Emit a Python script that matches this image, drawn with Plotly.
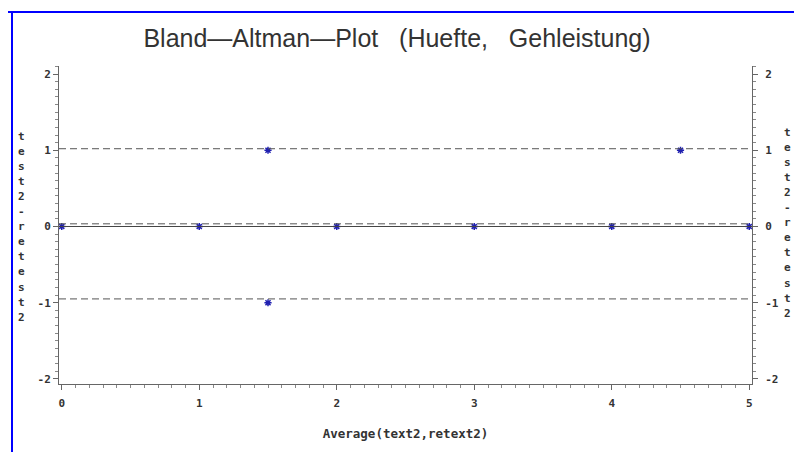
import plotly.graph_objects as go

# data
avg_vals = [0, 1, 1.5, 1.5, 2, 3, 4, 4.5, 5]
diff_vals = [0, 0, 1, -1, 0, 0, 0, 1, 0]
mean_diff = 0.035
upper_loa = 1.02
lower_loa = -0.95
x_ticks = [0, 1, 2, 3, 4, 5]
y_ticks = [-2, -1, 0, 1, 2]
title_text = "Bland\u2014Altman\u2014Plot\u00a0\u00a0\u00a0(Huefte,\u00a0\u00a0\u00a0Gehleistung)"
x_title = "Average(text2,retext2)"
y_title_chars = list("test2-retest2")

fig = go.Figure()
fig.add_trace(go.Scatter(
    x=avg_vals, y=diff_vals, mode="markers",
    marker=dict(symbol="asterisk-open", size=6, color="#2020b0",
                line=dict(color="#2020b0", width=1.5)),
    showlegend=False, hoverinfo="skip"))
fig.add_trace(go.Scatter(x=[avg_vals[0]], y=[diff_vals[0]], yaxis="y2",
                         mode="markers", marker=dict(opacity=0),
                         showlegend=False, hoverinfo="skip"))

yr = [-2.066, 2.105]
tickfont = dict(family="DejaVu Sans Mono", size=11, color="#333", weight="bold")
axcommon = dict(showgrid=False, zeroline=False, showline=True, linecolor="#666",
                linewidth=1, ticks="outside", ticklen=5, tickcolor="#666",
                tickfont=tickfont,
                minor=dict(ticks="outside", ticklen=3, tickcolor="#888", dtick=0.1, showgrid=False))

fig.update_layout(
    width=794, height=452, plot_bgcolor="white", paper_bgcolor="white",
    margin=dict(l=59, r=42, t=66, b=68),
    title=dict(text=title_text, x=0.5, xanchor="center", y=1 - 38 / 452, yanchor="middle",
               xref="container",
               font=dict(family="Liberation Sans", size=25, color="#333")),
    xaxis=dict(range=[-0.02, 5.02], tickvals=x_ticks, ticktext=[str(v) for v in x_ticks],
               ticklabelstandoff=4,
               title=dict(text=x_title, font=dict(family="DejaVu Sans Mono", size=12.5,
                                                  color="#333", weight="bold"), standoff=20),
               **axcommon),
    yaxis=dict(range=yr, tickvals=y_ticks, ticktext=[str(v) for v in y_ticks], **axcommon),
    yaxis2=dict(range=yr, tickvals=y_ticks, ticktext=[str(v) for v in y_ticks],
                overlaying="y", side="right", ticklabelstandoff=5, **axcommon),
)

# reference lines
fig.add_shape(type="line", xref="paper", x0=0, x1=1, yref="y", y0=0, y1=0,
              line=dict(color="#444", width=1))
for v in [upper_loa, mean_diff, lower_loa]:
    fig.add_shape(type="line", xref="paper", x0=0, x1=1, yref="y", y0=v, y1=v,
                  line=dict(color="#555", width=1, dash="7px,4px"))

# vertical stacked y titles (one character per row)
plot_top, plot_h = 66, 318
for xpix, start in [(21, 136), (787, 132)]:
    for i, ch in enumerate(y_title_chars):
        ypix = start + i * 15.1
        fig.add_annotation(text=ch, xref="paper", yref="paper",
                           x=(xpix - 59) / 693, y=1 - (ypix - plot_top) / plot_h,
                           xanchor="center", yanchor="middle", showarrow=False,
                           font=dict(family="DejaVu Sans Mono", size=11, color="#333", weight="bold"))

# blue border
fig.add_shape(type="line", xref="paper", yref="paper", x0=-51 / 693, x1=1.1, y0=1 + 54 / 318, y1=1 + 54 / 318,
              line=dict(color="blue", width=2))
fig.add_shape(type="line", xref="paper", yref="paper", x0=-47 / 693, x1=-47 / 693, y0=1 + 55 / 318, y1=-0.3,
              line=dict(color="blue", width=2))

fig.write_html("out.html")
